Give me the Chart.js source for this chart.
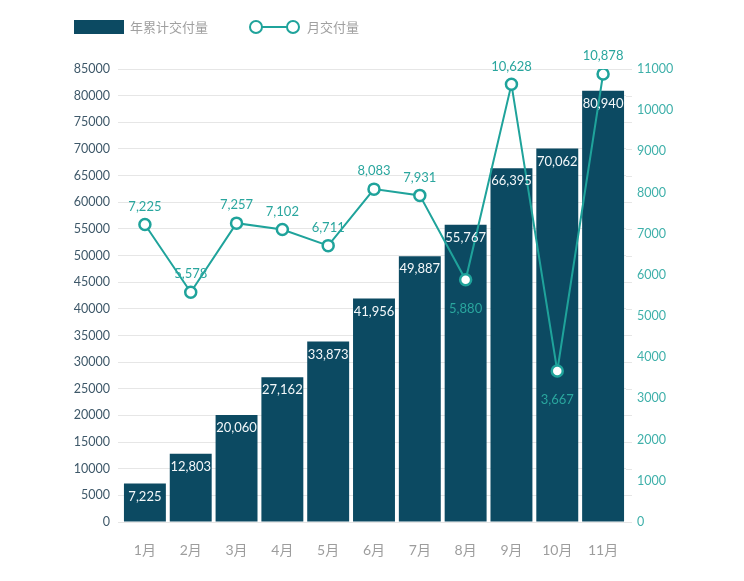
<!DOCTYPE html>
<html>
<head>
<meta charset="utf-8">
<script src="https://cdn.jsdelivr.net/npm/chart.js@4.4.0/dist/chart.umd.min.js"></script>
<style>
  html, body { margin: 0; padding: 0; background: #fff; }
  #wrap { position: relative; width: 744px; height: 581px; }
  canvas { position: absolute; left: 0; top: 0; }
  .lg { position: absolute; font-family: 'Lato', 'Noto Sans CJK SC', sans-serif; font-size: 13px; font-weight: 400; color: #a0a0a0; line-height: 14px; }
  .sw { position: absolute; }
</style>
</head>
<body>
<div id="wrap">
  <canvas id="c" width="744" height="581"></canvas>
  <div class="sw" style="left:74px;top:20px;width:50px;height:14px;background:#0c4a62;"></div>
  <div class="lg" style="left:130px;top:20px;">年累计交付量</div>
  <div class="sw" style="left:256px;top:26px;width:37px;height:2px;background:#1fa39b;"></div>
  <div class="sw" style="left:249px;top:20px;width:10px;height:10px;border:2.5px solid #1fa39b;border-radius:50%;background:#fff;"></div>
  <div class="sw" style="left:286px;top:20px;width:10px;height:10px;border:2.5px solid #1fa39b;border-radius:50%;background:#fff;"></div>
  <div class="lg" style="left:307px;top:20px;">月交付量</div>
</div>
<script>
const categories = ['1月','2月','3月','4月','5月','6月','7月','8月','9月','10月','11月'];
const cumulativeDeliveries = [7225, 12803, 20060, 27162, 33873, 41956, 49887, 55767, 66395, 70062, 80940];
const monthlyDeliveries = [7225, 5578, 7257, 7102, 6711, 8083, 7931, 5880, 10628, 3667, 10878];
const leftTicks = [0, 5000, 10000, 15000, 20000, 25000, 30000, 35000, 40000, 45000, 50000, 55000, 60000, 65000, 70000, 75000, 80000, 85000];
const rightTicks = [0, 1000, 2000, 3000, 4000, 5000, 6000, 7000, 8000, 9000, 10000, 11000];

const BAR = '#0c4a62';
const TEAL = '#1fa39b';
const FONT = "'Lato', 'Noto Sans CJK SC', sans-serif";

const fmt = v => v.toLocaleString('en-US');

const labelPlugin = {
  id: 'valueLabels',
  afterDatasetsDraw(chart) {
    const ctx = chart.ctx;
    const barMeta = chart.getDatasetMeta(1);
    const lineMeta = chart.getDatasetMeta(0);
    ctx.save();
    ctx.font = '13px ' + FONT;
    ctx.textAlign = 'center';
    ctx.textBaseline = 'middle';
    ctx.fillStyle = '#f4f8fa';
    barMeta.data.forEach((el, i) => {
      ctx.fillText(fmt(cumulativeDeliveries[i]), el.x, el.y + 13);
    });
    ctx.fillStyle = '#2aa69e';
    lineMeta.data.forEach((el, i) => {
      const barTop = barMeta.data[i].y;
      const below = el.y > barTop;
      ctx.fillText(fmt(monthlyDeliveries[i]), el.x, below ? el.y + 29 : el.y - 18);
    });
    ctx.restore();
  }
};

const gridExt = {
  id: 'gridExt',
  beforeDatasetsDraw(chart) {
    const ctx = chart.ctx;
    const s = chart.scales.y;
    const a = chart.chartArea;
    ctx.save();
    ctx.strokeStyle = '#e6e6e6';
    ctx.lineWidth = 1;
    leftTicks.forEach(t => {
      const y = Math.round(s.getPixelForValue(t)) + 0.5;
      ctx.beginPath();
      ctx.moveTo(a.right, y);
      ctx.lineTo(a.right + 6, y);
      ctx.stroke();
    });
    ctx.restore();
  }
};

new Chart(document.getElementById('c'), {
  data: {
    labels: categories,
    datasets: [
      {
        type: 'line',
        label: '月交付量',
        data: monthlyDeliveries,
        yAxisID: 'y1',
        order: 0,
        borderColor: TEAL,
        borderWidth: 2,
        pointRadius: 5.5,
        pointBorderWidth: 2.5,
        pointBackgroundColor: '#ffffff',
        pointBorderColor: TEAL,
        tension: 0
      },
      {
        type: 'bar',
        label: '年累计交付量',
        data: cumulativeDeliveries,
        yAxisID: 'y',
        order: 1,
        backgroundColor: BAR,
        categoryPercentage: 1,
        barPercentage: 0.915
      }
    ]
  },
  options: {
    responsive: false,
    animation: false,
    layout: { padding: { top: 69, bottom: 0, left: 0, right: 0 } },
    plugins: { legend: { display: false }, tooltip: { enabled: false } },
    scales: {
      x: {
        grid: { display: false, drawTicks: false },
        border: { display: false },
        ticks: { color: '#9d9d9d', font: { family: FONT, size: 14 }, padding: 20 },
        afterFit(scale) { scale.height = 59; }
      },
      y: {
        position: 'left',
        min: 0, max: 85000,
        afterBuildTicks(scale) { scale.ticks = leftTicks.map(v => ({ value: v })); },
        grid: { color: '#e6e6e6', drawTicks: true, tickLength: 4 },
        border: { display: false },
        ticks: { color: '#3e5869', font: { family: FONT, size: 12.5 }, padding: 8, callback: v => String(v) },
        afterFit(scale) { scale.width = 122; }
      },
      y1: {
        position: 'right',
        min: 0, max: 11000,
        afterBuildTicks(scale) { scale.ticks = rightTicks.map(v => ({ value: v })); },
        grid: { display: false, drawTicks: false },
        border: { display: false },
        ticks: { color: '#3fb0aa', font: { family: FONT, size: 12.5 }, padding: 11, callback: v => String(v) },
        afterFit(scale) { scale.width = 118; }
      }
    }
  },
  plugins: [gridExt, labelPlugin]
});
</script>
</body>
</html>
